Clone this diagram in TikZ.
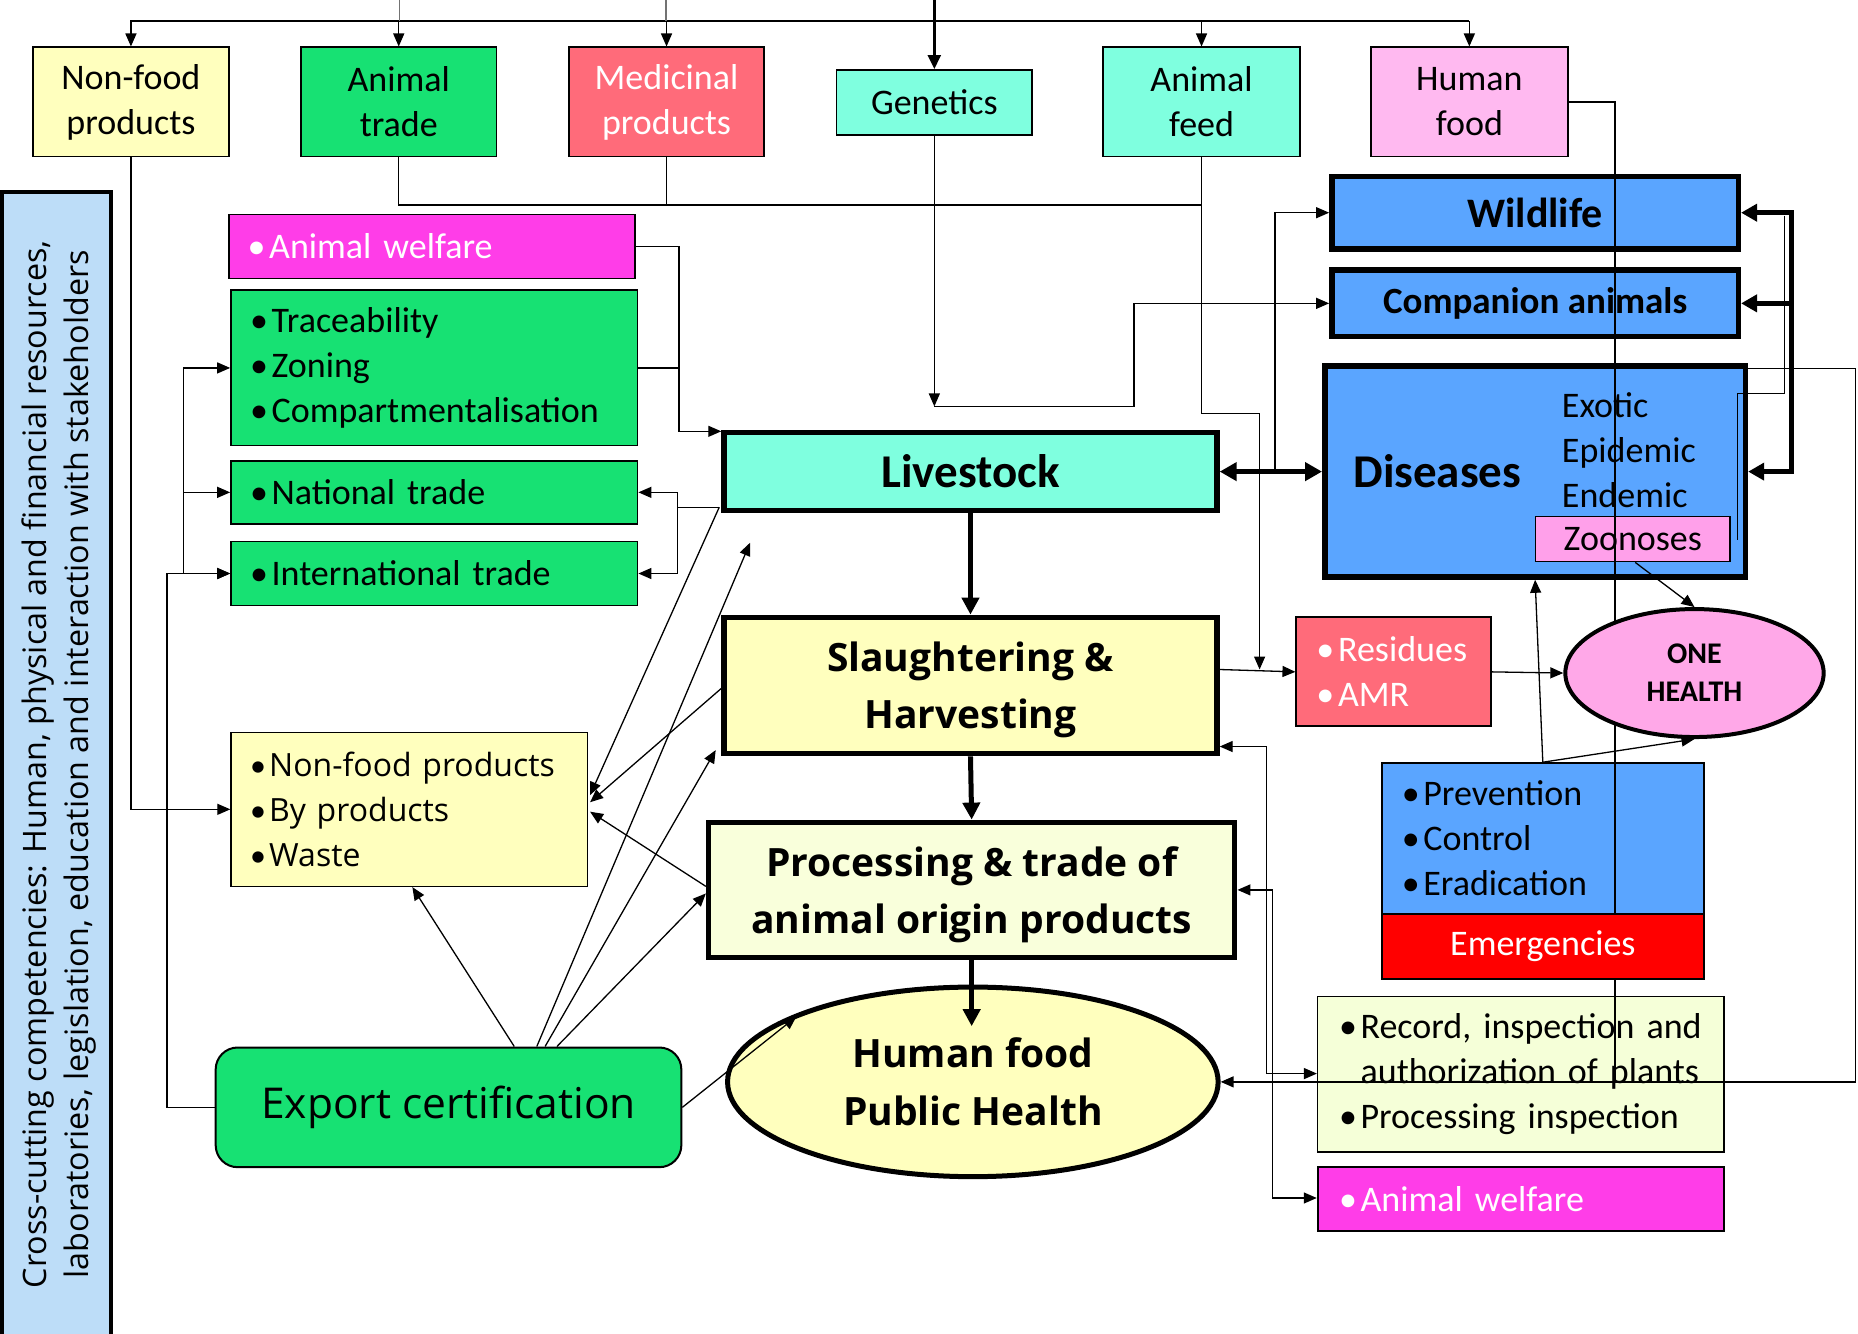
\documentclass[tikz,border=0pt]{standalone}
\usepackage{fontspec}
\setmainfont{Carlito}
\newfontfamily\os{Open Sans}
\usetikzlibrary{arrows.meta,shapes.geometric}

\definecolor{cYel}{HTML}{FFFFBE}
\definecolor{cPale}{HTML}{F9FFDB}
\definecolor{cRec}{HTML}{F5FFD8}
\definecolor{cGrn}{HTML}{17E173}
\definecolor{cAqua}{HTML}{7FFFDF}
\definecolor{cSal}{HTML}{FF6B7A}
\definecolor{cHum}{HTML}{FFB9F0}
\definecolor{cMag}{HTML}{FF3DE8}
\definecolor{cBlue}{HTML}{5AA5FF}
\definecolor{cZoo}{HTML}{FFA0EA}
\definecolor{cOne}{HTML}{FFA8E8}
\definecolor{cSky}{HTML}{BDDDF8}

\newcommand\bul{\makebox[0.6em][l]{\rmfamily\textbullet}}
\newcommand\ind{\hspace*{0.6em}}

% box from corner (x1,y1) to (x2,y2): name, x1, y1, x2, y2, style, text
\newcommand\bx[7]{\node[#6,minimum width={(#4-#2)*1.18495pt},minimum height={(#5-#3)*1.18495pt}] (#1) at ({(#2+#4)/2},{(#3+#5)/2}) {#7};}
% left-aligned list box: name, x1, y1, x2, y2, padding, style, text
\newcommand\lbx[8]{\pgfmathsetmacro\tw{(#4-#2-2*#6)*1.18495}\node[#7,align=left,text width=\tw pt,inner xsep={#6*1.18495pt},inner ysep=0pt,minimum height={(#5-#3)*1.18495pt}] (#1) at ({(#2+#4)/2},{(#3+#5)/2}) {#8};}

\tikzset{
  ln/.style={line width=1.3pt},
  ar/.style={line width=1.3pt,-{Triangle[length=13pt,width=11pt]}},
  bar/.style={line width=1.3pt,{Triangle[length=13pt,width=11pt]}-{Triangle[length=13pt,width=11pt]}},
  thk/.style={line width=5pt,-{Triangle[length=17pt,width=17pt]}},
  thkb/.style={line width=5pt,{Triangle[length=17pt,width=18pt]}-{Triangle[length=17pt,width=18pt]}},
  rb/.style={line width=4.5pt,-{Triangle[length=16pt,width=17pt]}},
  bx/.style={draw,line width=1.8pt,inner sep=0pt,align=center,font=\fontsize{36}{45}\selectfont},
  lbox/.style={draw,line width=1.8pt,font=\fontsize{36}{45}\selectfont},
  tb/.style={draw,line width=5.5pt,inner sep=0pt,align=center},
  bigbold/.style={align=center,inner sep=0pt,font=\os\bfseries\fontsize{39}{57}\selectfont},
}

\begin{document}
\begin{tikzpicture}[x=1.18495pt,y=-1.18495pt]
\useasboundingbox (0,0) rectangle (1568,1125);

% ---------- cross-cutting band ----------
\bx{cross}{2}{162}{94}{1132}{draw,line width=4pt,fill=cSky,inner sep=0pt}{}
\node[rotate=90,align=center,font=\os\fontsize{32.3}{41.5}\selectfont] (crosstxt) at (50,645)
  {Cross-cutting competencies: Human, physical and financial resources,\\laboratories, legislation, education and interaction with stakeholders};

% ---------- top row ----------
\bx{nonfood}{28}{40}{193}{132}{bx,fill=cYel}{Non-food\\products}
\bx{anitrade}{254}{40}{419}{132}{bx,fill=cGrn}{Animal\\trade}
\bx{medic}{480}{40}{645}{132}{bx,fill=cSal,text=white}{Medicinal\\products}
\bx{gen}{706}{59}{871}{114}{bx,fill=cAqua}{Genetics}
\bx{feed}{931}{40}{1097}{132}{bx,fill=cAqua}{Animal\\feed}
\bx{hfood}{1157}{40}{1323}{132}{bx,fill=cHum}{Human\\food}

% ---------- left column ----------
\lbx{aw1}{193}{181}{536}{235}{16}{lbox,fill=cMag,text=white}{\bul Animal welfare}
\lbx{trace}{195}{245}{538}{376}{16}{lbox,fill=cGrn}{\bul Traceability\\\bul Zoning\\\bul Compartmentalisation}
\lbx{nat}{195}{389}{538}{442}{16}{lbox,fill=cGrn}{\bul National trade}
\lbx{intl}{195}{457}{538}{511}{16}{lbox,fill=cGrn}{\bul International trade}
\lbx{ybox}{195}{618}{496}{748}{16}{draw,line width=1.5pt,fill=cYel,font=\os\fontsize{32}{45}\selectfont}{\bul Non-food products\\\bul By products\\\bul Waste}
\bx{exp}{182}{884}{575}{985}{draw,line width=2pt,fill=cGrn,rounded corners=22pt,inner sep=0pt,font=\os\fontsize{42.5}{50}\selectfont}{Export certification}

% ---------- central chain ----------
\bx{live}{611}{365}{1027}{431}{tb,fill=cAqua,font=\bfseries\fontsize{47}{56}\selectfont}{Livestock}
\bx{slaughter}{611}{521}{1027}{636}{tb,fill=cYel}{}
\node[bigbold] (slaughtertxt) at (819,582.5) {Slaughtering \&\\Harvesting};
\bx{proc}{598}{694}{1042}{808}{tb,fill=cPale}{}
\node[bigbold] (proctxt) at (820,755) {Processing \& trade of\\animal origin products};
\node[ellipse,draw,line width=5pt,fill=cYel,inner sep=0pt,minimum width={414*1.18495pt},minimum height={160*1.18495pt},align=center,font=\os\bfseries\fontsize{39}{58}\selectfont] (hph) at (821,913) {Human food\\Public Health};

% ---------- right column ----------
\bx{wild}{1124}{149}{1467}{210}{tb,fill=cBlue,font=\bfseries\fontsize{42}{50}\selectfont}{Wildlife}
\bx{comp}{1124}{228}{1467}{284}{tb,fill=cBlue,font=\bfseries\fontsize{37}{45}\selectfont}{Companion animals}
\bx{dis}{1118}{309}{1473}{487}{tb,fill=cBlue}{}
\node[font=\bfseries\fontsize{47}{56}\selectfont] (distxt) at (1213,398) {Diseases};
\node[anchor=west,align=left,inner sep=0pt,font=\fontsize{36}{45}\selectfont] (distypes) at (1318,380) {Exotic\\Epidemic\\Endemic};
\bx{zoon}{1296}{436}{1460}{474}{bx,fill=cZoo,line width=1.5pt}{Zoonoses}
\lbx{res}{1094}{521}{1258}{613}{17}{lbox,fill=cSal,text=white}{\bul Residues\\\bul AMR}
\lbx{prev}{1166}{644}{1438}{771}{17}{lbox,fill=cBlue}{\bul Prevention\\\bul Control\\\bul Eradication}
\lbx{rec}{1112}{841}{1455}{972}{18}{lbox,fill=cRec,line width=1.5pt}{\bul Record, inspection and\\\ind authorization of plants\\\bul Processing inspection}
\lbx{aw2}{1112}{985}{1455}{1039}{18}{lbox,fill=cMag,text=white}{\bul Animal welfare}

% ---------- connectors: top distribution ----------
\draw[line width=2.2pt] (110,18) -- (1240,18);
\draw[ln,black!55] (337,0) -- (337,18);
\draw[ln,black!55] (562,0) -- (562,18);
\foreach \n in {nonfood,anitrade,medic,feed,hfood}
  \draw[ar] (\n.north |- 0,18) -- (\n.north);
\draw[line width=2.5pt,-{Triangle[length=14pt,width=13pt]}] (gen.north |- 0,0) -- (gen.north);

% ---------- connectors: from the top boxes ----------
\draw[ar] (nonfood.south) |- (ybox.west);
\draw[ln] (anitrade.south) |- (feed.south |- 0,173);
\draw[ln] (medic.south) -- (medic.south |- 0,173);
\draw[ar] (feed.south) -- (feed.south |- 0,349) -| (1063,565);
\draw[ar] (gen.south) -- (gen.south |- 0,343);
\draw[ar] (gen.south |- 0,343) -- (957,343) -- (957,0 |- comp.west) -- (comp.west);
\draw[ln] (hfood.east) -| (1363,913);

% ---------- connectors: left side ----------
\coordinate (lc) at (607,428);
\draw[ar] (aw1.east) -| (573,364) -- (live.west |- 0,364);
\draw[ln] (trace.east) -- (573,0 |- trace.east);
\draw[ln] (lc) -- (572,428);
\draw[ar] (572,428) |- (nat.east);
\draw[ar] (572,428) |- (intl.east);
\draw[ar] (lc) -- (498,671);
\draw[ar] (slaughter.west |- 0,581) -- (498,677);
\draw[ar] (proc.west |- 0,748) -- (498,685);
\draw[ar] (434,0 |- exp.north) -- (348,0 |- ybox.south);
\draw[ar] (453,0 |- exp.north) -- (633,458);
\draw[ar] (460,0 |- exp.north) -- (604,633);
\draw[ar] (470,0 |- exp.north) -- (proc.west |- 0,754);
\draw[ar] (exp.east) -- (672,858);
\draw[ar] (exp.west) -| (141,0 |- intl.west) -- (intl.west);
\draw[ar] (155,0 |- nat.west) |- (trace.west);
\draw[ar] (155,0 |- nat.west) -- (nat.west);
\draw[ar] (155,0 |- nat.west) |- (intl.west);

% ---------- connectors: central chain ----------
\draw[thk] (live.south) -- (slaughter.north);
\draw[thk] (slaughter.south) -- (proc.north);
\draw[thk] (proc.south) -- (proc.south |- 0,866);
\draw[thkb] (live.east) -- (dis.west);
\draw[ar] (1076,0 |- live.east) -- (1076,0 |- wild.west) -- (wild.west);

% ---------- connectors: right side ----------
\draw[ar] (slaughter.east |- 0,565) -- (res.west);
\draw[line width=4.5pt,{Triangle[length=16pt,width=17pt]}-{Triangle[length=16pt,width=17pt]}]
  (wild.east) -- (1512,0 |- wild.east) -- (1512,0 |- dis.east) -- (dis.east);
\draw[rb] (1512,0 |- comp.east) -- (comp.east);
\draw[ln] (1506,182) -- (1506,332) -- (1466,332) -- (1466,456);
\draw[ar] (1463,311) -- (1566,311) -- (1566,913) -- (hph.east);
\draw[bar] (slaughter.east |- 0,630) -- (1069,630) -- (1069,906) -- (rec.west |- 0,906);
\draw[bar] (proc.east |- 0,751) -- (1074,751) -- (1074,1011) -- (aw2.west |- 0,1011);
\draw[ar] (prev.north) -- (dis.south);

% ---------- ONE HEALTH and emergencies, over the long vertical ----------
\node[ellipse,draw,line width=4pt,fill=cOne,inner sep=0pt,minimum width={218*1.18495pt},minimum height={108*1.18495pt},align=center,font=\bfseries\fontsize{30}{38}\selectfont] (oh) at (1430,568) {ONE\\HEALTH};
\bx{emerg}{1166}{771}{1438}{826}{bx,fill=red,text=white}{Emergencies}
\draw[ar] (res.east) -- (oh.west);
\draw[ar] (1380,0 |- zoon.south) -- (oh.north);
\draw[ar] (prev.north) -- (oh.south);
\end{tikzpicture}
\end{document}
